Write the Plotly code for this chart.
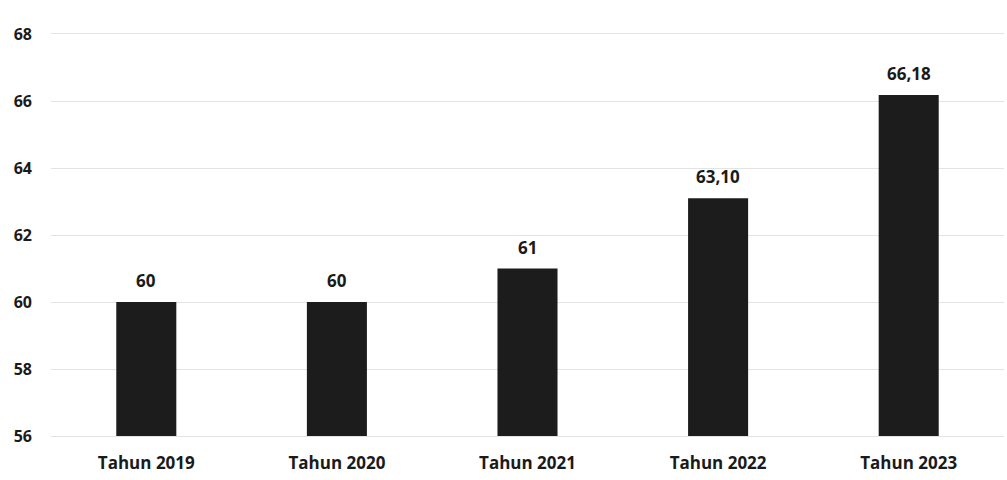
import plotly.graph_objects as go

categories = ["Tahun 2019", "Tahun 2020", "Tahun 2021", "Tahun 2022", "Tahun 2023"]
values = [60, 60, 61, 63.10, 66.18]
value_labels = ["60", "60", "61", "63,10", "66,18"]
y_ticks = [56, 58, 60, 62, 64, 66, 68]

FONT = "Open Sans"
BAR = "#1c1c1c"
GRID = "#e3e3e3"

fig = go.Figure(
    go.Bar(
        x=categories,
        y=values,
        base=0,
        marker=dict(color=BAR, line=dict(width=0)),
        width=0.315,
        hoverinfo="skip",
    )
)

for cat, val, lab in zip(categories, values, value_labels):
    fig.add_annotation(
        x=cat, y=val, text=f"<b>{lab}</b>", showarrow=False,
        yanchor="bottom", yshift=8,
        font=dict(family=FONT, size=17, color="#1a1a1a"),
    )

fig.update_layout(
    width=1007, height=480,
    margin=dict(l=51, r=3, t=34, b=44),
    paper_bgcolor="white", plot_bgcolor="white",
    showlegend=False,
    font=dict(family=FONT, size=17, color="#1a1a1a"),
)
fig.update_yaxes(
    range=[56, 68], tickvals=y_ticks,
    ticktext=[f"<b>{t}</b>" for t in y_ticks],
    tickfont=dict(size=16),
    showgrid=True, gridcolor=GRID, gridwidth=1,
    zeroline=False, showline=False, ticks="",
    ticklabelstandoff=18,
)
fig.update_xaxes(
    ticktext=[f"<b>{c}</b>" for c in categories], tickvals=categories,
    showgrid=False, showline=True, mirror=True, linecolor=GRID, ticks="",
    ticklabelstandoff=12,
)

fig.write_html("out.html")
